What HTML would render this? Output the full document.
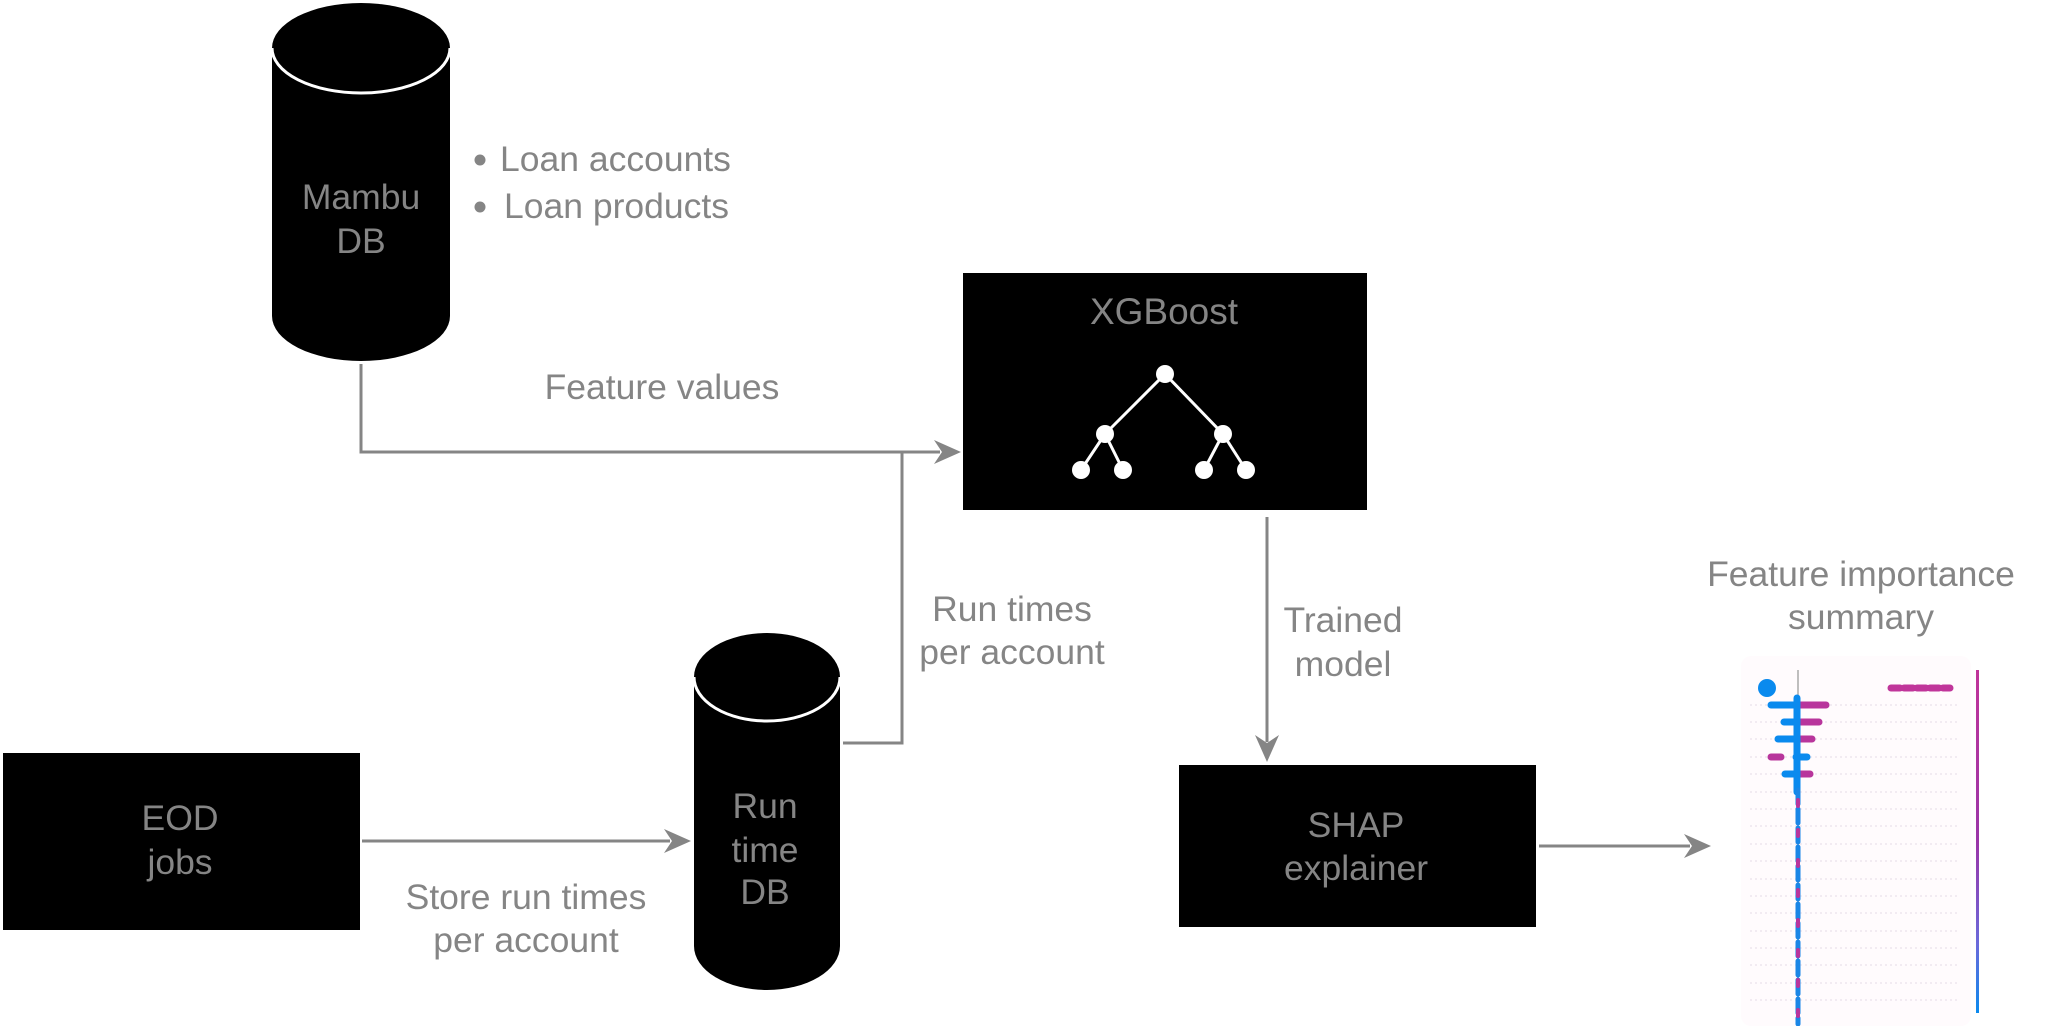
<!DOCTYPE html>
<html><head><meta charset="utf-8"><style>
html,body{margin:0;padding:0;background:#fff;}
svg{display:block;}
text{font-family:"Liberation Sans",Arial,sans-serif;fill:#858585;font-size:35.5px;}
</style></head><body>
<svg width="2058" height="1026" viewBox="0 0 2058 1026" xmlns="http://www.w3.org/2000/svg">
<path d="M272 48 L272 316 A89 45 0 0 0 450 316 L450 48 Z" fill="#000"/>
<ellipse cx="361" cy="48" rx="89" ry="45" fill="#000"/>
<path d="M272 48 A89 45 0 0 0 450 48" fill="none" stroke="#fff" stroke-width="3"/>
<text x="361" y="209" text-anchor="middle">Mambu</text>
<text x="361" y="253" text-anchor="middle">DB</text>
<circle cx="480" cy="160" r="5.5" fill="#858585"/>
<circle cx="480" cy="207" r="5.5" fill="#858585"/>
<text x="500" y="171">Loan accounts</text>
<text x="504" y="218">Loan products</text>

<polyline points="361,364 361,452 940,452" fill="none" stroke="#858585" stroke-width="3"/>
<polygon points="961,452 934,440 942,452 934,464" fill="#858585"/>
<text x="662" y="399" text-anchor="middle">Feature values</text>
<polyline points="843,743 902,743 902,452" fill="none" stroke="#858585" stroke-width="3"/>

<rect x="963" y="273" width="404" height="237" fill="#000"/>
<text x="1164" y="324" text-anchor="middle" style="font-size:37px">XGBoost</text>
<g stroke="#fff" stroke-width="3">
<line x1="1165" y1="374" x2="1105" y2="434"/><line x1="1165" y1="374" x2="1223" y2="434"/>
<line x1="1105" y1="434" x2="1081" y2="470"/><line x1="1105" y1="434" x2="1123" y2="470"/>
<line x1="1223" y1="434" x2="1204" y2="470"/><line x1="1223" y1="434" x2="1246" y2="470"/>
</g>
<g fill="#fff">
<circle cx="1165" cy="374" r="9"/><circle cx="1105" cy="434" r="9"/><circle cx="1223" cy="434" r="9"/>
<circle cx="1081" cy="470" r="9"/><circle cx="1123" cy="470" r="9"/><circle cx="1204" cy="470" r="9"/><circle cx="1246" cy="470" r="9"/>
</g>

<text x="1012" y="621" text-anchor="middle">Run times</text>
<text x="1012" y="664" text-anchor="middle">per account</text>

<path d="M694 677 L694 946 A73 44 0 0 0 840 946 L840 677 Z" fill="#000"/>
<ellipse cx="767" cy="677" rx="73" ry="44" fill="#000"/>
<path d="M694 677 A73 44 0 0 0 840 677" fill="none" stroke="#fff" stroke-width="3"/>
<text x="765" y="818" text-anchor="middle">Run</text>
<text x="765" y="862" text-anchor="middle">time</text>
<text x="765" y="904" text-anchor="middle">DB</text>

<rect x="3" y="753" width="357" height="177" fill="#000"/>
<text x="180" y="830" text-anchor="middle">EOD</text>
<text x="180" y="874" text-anchor="middle">jobs</text>
<line x1="362" y1="841" x2="670" y2="841" stroke="#858585" stroke-width="3"/>
<polygon points="691,841 664,829 672,841 664,853" fill="#858585"/>
<text x="526" y="909" text-anchor="middle">Store run times</text>
<text x="526" y="952" text-anchor="middle">per account</text>

<line x1="1267" y1="517" x2="1267" y2="742" stroke="#858585" stroke-width="3"/>
<polygon points="1267,762 1255,735 1267,743 1279,735" fill="#858585"/>
<text x="1343" y="632" text-anchor="middle">Trained</text>
<text x="1343" y="676" text-anchor="middle">model</text>

<rect x="1179" y="765" width="357" height="162" fill="#000"/>
<text x="1356" y="837" text-anchor="middle">SHAP</text>
<text x="1356" y="880" text-anchor="middle">explainer</text>
<line x1="1539" y1="846" x2="1690" y2="846" stroke="#858585" stroke-width="3"/>
<polygon points="1711,846 1684,834 1692,846 1684,858" fill="#858585"/>

<text x="1861" y="586" text-anchor="middle">Feature importance</text>
<text x="1861" y="629" text-anchor="middle">summary</text>
<defs><linearGradient id="cb" x1="0" y1="0" x2="0" y2="1">
<stop offset="0" stop-color="#c0359a"/><stop offset="0.5" stop-color="#9a36a8"/><stop offset="0.8" stop-color="#6a6adb"/><stop offset="1" stop-color="#0a8aee"/></linearGradient></defs>
<rect x="1741" y="656" width="230" height="370" rx="10" fill="#fffbfd"/>
<g stroke="#eee6ee" stroke-width="1.5" stroke-dasharray="2,3">
<line x1="1750" y1="705" x2="1960" y2="705"/><line x1="1750" y1="722" x2="1960" y2="722"/><line x1="1750" y1="739" x2="1960" y2="739"/>
<line x1="1750" y1="757" x2="1960" y2="757"/><line x1="1750" y1="774" x2="1960" y2="774"/><line x1="1750" y1="792" x2="1960" y2="792"/>
<line x1="1750" y1="809" x2="1960" y2="809"/><line x1="1750" y1="826" x2="1960" y2="826"/><line x1="1750" y1="844" x2="1960" y2="844"/>
<line x1="1750" y1="861" x2="1960" y2="861"/><line x1="1750" y1="879" x2="1960" y2="879"/><line x1="1750" y1="896" x2="1960" y2="896"/>
<line x1="1750" y1="913" x2="1960" y2="913"/><line x1="1750" y1="931" x2="1960" y2="931"/><line x1="1750" y1="948" x2="1960" y2="948"/>
<line x1="1750" y1="965" x2="1960" y2="965"/><line x1="1750" y1="983" x2="1960" y2="983"/><line x1="1750" y1="1000" x2="1960" y2="1000"/>
</g>
<line x1="1798" y1="670" x2="1798" y2="1026" stroke="#aaa" stroke-width="1.5"/>
<rect x="1976" y="670" width="3" height="343" fill="url(#cb)"/>
<g stroke-linecap="round" stroke-width="7">
<line x1="1891" y1="688" x2="1950" y2="688" stroke="#c0359a" stroke-dasharray="9,4"/>
<line x1="1771" y1="705" x2="1796" y2="705" stroke="#0a8aee"/>
<line x1="1799" y1="705" x2="1826" y2="705" stroke="#b8359c"/>
<line x1="1784" y1="722" x2="1797" y2="722" stroke="#0a8aee"/>
<line x1="1801" y1="722" x2="1819" y2="722" stroke="#b8359c"/>
<line x1="1778" y1="739" x2="1797" y2="739" stroke="#0a8aee"/>
<line x1="1799" y1="739" x2="1812" y2="739" stroke="#b8359c"/>
<line x1="1771" y1="757" x2="1781" y2="757" stroke="#b8359c"/>
<line x1="1796" y1="757" x2="1807" y2="757" stroke="#0a8aee"/>
<line x1="1785" y1="774" x2="1797" y2="774" stroke="#0a8aee"/>
<line x1="1799" y1="774" x2="1810" y2="774" stroke="#b8359c"/>
<line x1="1797" y1="698" x2="1797" y2="792" stroke="#0a8aee" stroke-width="7"/>
<line x1="1798" y1="790" x2="1798" y2="1024" stroke="#1a86e6" stroke-width="5" stroke-dasharray="14,5"/>
<line x1="1798" y1="800" x2="1798" y2="1024" stroke="#b8359c" stroke-width="4" stroke-dasharray="6,24"/>
</g>
<circle cx="1767" cy="688" r="9" fill="#0a8aee"/>
</svg>
</body></html>
